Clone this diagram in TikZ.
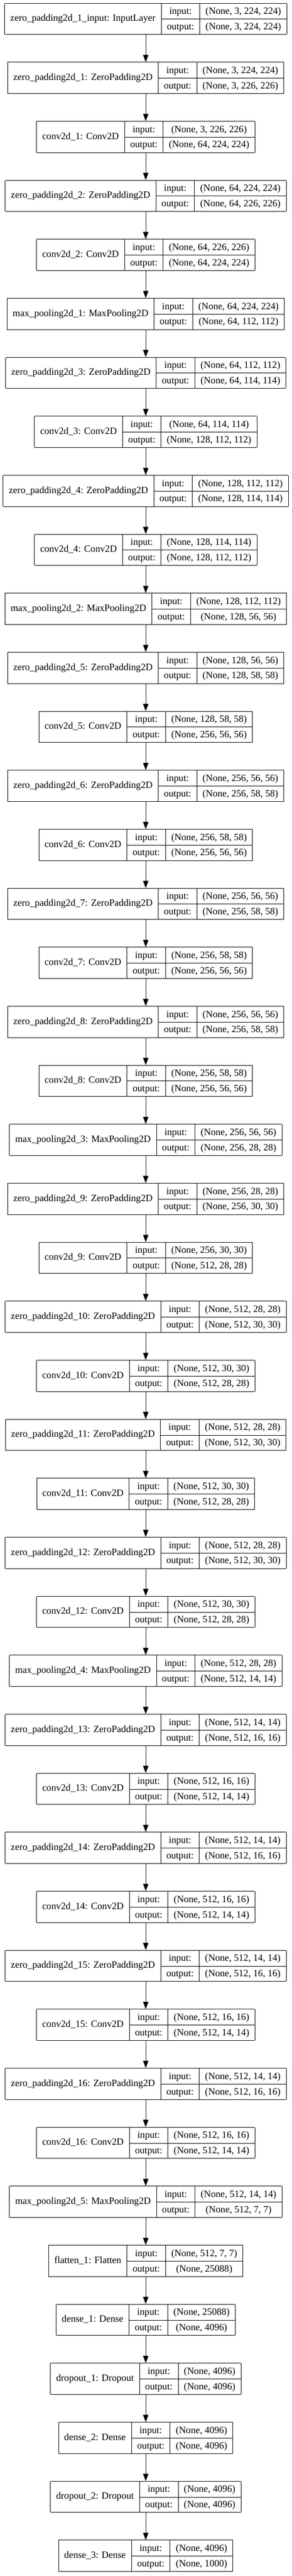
\documentclass[tikz,border=0pt]{standalone}
\usepackage{fontspec}
\setmainfont{Liberation Serif}
\usepackage{multirow}
\usetikzlibrary{positioning,arrows.meta}

\setlength\arrayrulewidth{0.75pt}
\setlength\tabcolsep{8pt}
\renewcommand\arraystretch{1.35}
\newcommand\recfont{\fontsize{13.6pt}{16pt}\selectfont}
\tikzset{
  rec/.style={anchor=north, inner sep=0pt, outer sep=0pt, font=\recfont},
  arr/.style={line width=0.75pt, -{Triangle[length=10pt,width=7.5pt]}}
}
% \layer{index}{label}{input shape}{output shape}
\newcommand\layer[4]{%
  \node[rec] (l#1) at (205.5pt, {-4.25pt-(#1-1)*83pt})
    {\begin{tabular}{|c|c|c|}\hline
      \multirow{2}{*}{#2} & input: & #3\\\cline{2-3}
      & output: & #4\\\hline
    \end{tabular}};
}

\begin{document}
\begin{tikzpicture}
  \useasboundingbox (0,0) rectangle (411.75pt,-3624pt);

  \layer{1}{zero\_padding2d\_1\_input: InputLayer}{(None, 3, 224, 224)}{(None, 3, 224, 224)}
  \layer{2}{zero\_padding2d\_1: ZeroPadding2D}{(None, 3, 224, 224)}{(None, 3, 226, 226)}
  \layer{3}{conv2d\_1: Conv2D}{(None, 3, 226, 226)}{(None, 64, 224, 224)}
  \layer{4}{zero\_padding2d\_2: ZeroPadding2D}{(None, 64, 224, 224)}{(None, 64, 226, 226)}
  \layer{5}{conv2d\_2: Conv2D}{(None, 64, 226, 226)}{(None, 64, 224, 224)}
  \layer{6}{max\_pooling2d\_1: MaxPooling2D}{(None, 64, 224, 224)}{(None, 64, 112, 112)}
  \layer{7}{zero\_padding2d\_3: ZeroPadding2D}{(None, 64, 112, 112)}{(None, 64, 114, 114)}
  \layer{8}{conv2d\_3: Conv2D}{(None, 64, 114, 114)}{(None, 128, 112, 112)}
  \layer{9}{zero\_padding2d\_4: ZeroPadding2D}{(None, 128, 112, 112)}{(None, 128, 114, 114)}
  \layer{10}{conv2d\_4: Conv2D}{(None, 128, 114, 114)}{(None, 128, 112, 112)}
  \layer{11}{max\_pooling2d\_2: MaxPooling2D}{(None, 128, 112, 112)}{(None, 128, 56, 56)}
  \layer{12}{zero\_padding2d\_5: ZeroPadding2D}{(None, 128, 56, 56)}{(None, 128, 58, 58)}
  \layer{13}{conv2d\_5: Conv2D}{(None, 128, 58, 58)}{(None, 256, 56, 56)}
  \layer{14}{zero\_padding2d\_6: ZeroPadding2D}{(None, 256, 56, 56)}{(None, 256, 58, 58)}
  \layer{15}{conv2d\_6: Conv2D}{(None, 256, 58, 58)}{(None, 256, 56, 56)}
  \layer{16}{zero\_padding2d\_7: ZeroPadding2D}{(None, 256, 56, 56)}{(None, 256, 58, 58)}
  \layer{17}{conv2d\_7: Conv2D}{(None, 256, 58, 58)}{(None, 256, 56, 56)}
  \layer{18}{zero\_padding2d\_8: ZeroPadding2D}{(None, 256, 56, 56)}{(None, 256, 58, 58)}
  \layer{19}{conv2d\_8: Conv2D}{(None, 256, 58, 58)}{(None, 256, 56, 56)}
  \layer{20}{max\_pooling2d\_3: MaxPooling2D}{(None, 256, 56, 56)}{(None, 256, 28, 28)}
  \layer{21}{zero\_padding2d\_9: ZeroPadding2D}{(None, 256, 28, 28)}{(None, 256, 30, 30)}
  \layer{22}{conv2d\_9: Conv2D}{(None, 256, 30, 30)}{(None, 512, 28, 28)}
  \layer{23}{zero\_padding2d\_10: ZeroPadding2D}{(None, 512, 28, 28)}{(None, 512, 30, 30)}
  \layer{24}{conv2d\_10: Conv2D}{(None, 512, 30, 30)}{(None, 512, 28, 28)}
  \layer{25}{zero\_padding2d\_11: ZeroPadding2D}{(None, 512, 28, 28)}{(None, 512, 30, 30)}
  \layer{26}{conv2d\_11: Conv2D}{(None, 512, 30, 30)}{(None, 512, 28, 28)}
  \layer{27}{zero\_padding2d\_12: ZeroPadding2D}{(None, 512, 28, 28)}{(None, 512, 30, 30)}
  \layer{28}{conv2d\_12: Conv2D}{(None, 512, 30, 30)}{(None, 512, 28, 28)}
  \layer{29}{max\_pooling2d\_4: MaxPooling2D}{(None, 512, 28, 28)}{(None, 512, 14, 14)}
  \layer{30}{zero\_padding2d\_13: ZeroPadding2D}{(None, 512, 14, 14)}{(None, 512, 16, 16)}
  \layer{31}{conv2d\_13: Conv2D}{(None, 512, 16, 16)}{(None, 512, 14, 14)}
  \layer{32}{zero\_padding2d\_14: ZeroPadding2D}{(None, 512, 14, 14)}{(None, 512, 16, 16)}
  \layer{33}{conv2d\_14: Conv2D}{(None, 512, 16, 16)}{(None, 512, 14, 14)}
  \layer{34}{zero\_padding2d\_15: ZeroPadding2D}{(None, 512, 14, 14)}{(None, 512, 16, 16)}
  \layer{35}{conv2d\_15: Conv2D}{(None, 512, 16, 16)}{(None, 512, 14, 14)}
  \layer{36}{zero\_padding2d\_16: ZeroPadding2D}{(None, 512, 14, 14)}{(None, 512, 16, 16)}
  \layer{37}{conv2d\_16: Conv2D}{(None, 512, 16, 16)}{(None, 512, 14, 14)}
  \layer{38}{max\_pooling2d\_5: MaxPooling2D}{(None, 512, 14, 14)}{(None, 512, 7, 7)}
  \layer{39}{flatten\_1: Flatten}{(None, 512, 7, 7)}{(None, 25088)}
  \layer{40}{dense\_1: Dense}{(None, 25088)}{(None, 4096)}
  \layer{41}{dropout\_1: Dropout}{(None, 4096)}{(None, 4096)}
  \layer{42}{dense\_2: Dense}{(None, 4096)}{(None, 4096)}
  \layer{43}{dropout\_2: Dropout}{(None, 4096)}{(None, 4096)}
  \layer{44}{dense\_3: Dense}{(None, 4096)}{(None, 1000)}

  %% one arrow per layer, top to bottom
  \foreach \i [evaluate=\i as \j using int(\i+1)] in {1,...,43}
    \draw[arr] (l\i.south) -- (l\j.north);

\end{tikzpicture}
\end{document}
